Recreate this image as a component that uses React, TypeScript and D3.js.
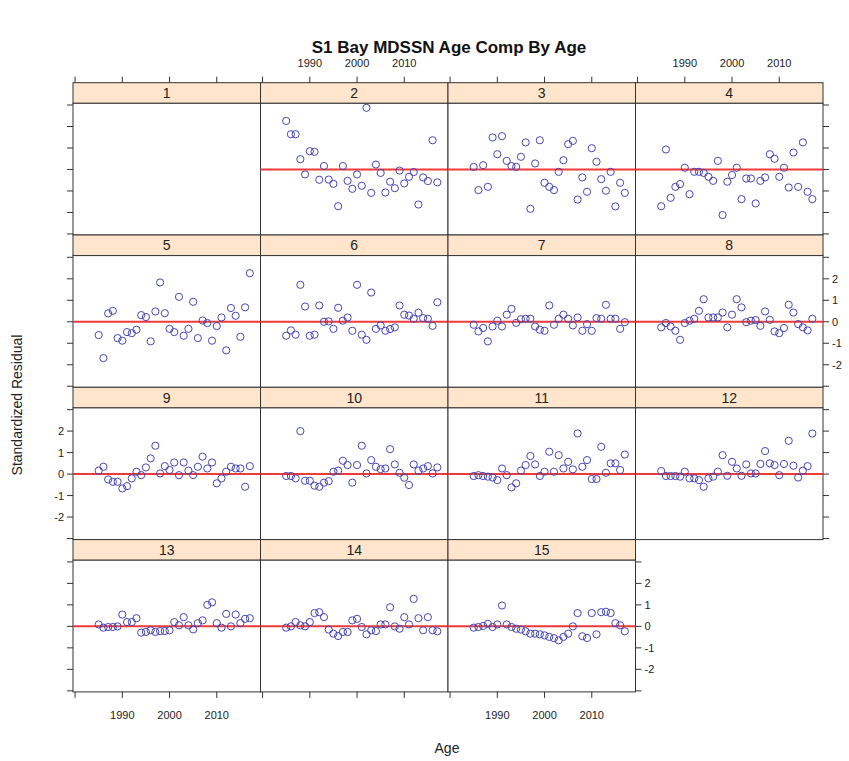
import React from "react";
import * as d3 from "d3";

const years = [1985,1986,1987,1988,1989,1990,1991,1992,1993,1994,1995,1996,1997,1998,1999,2000,2001,2002,2003,2004,2005,2006,2007,2008,2009,2010,2011,2012,2013,2014,2015,2016,2017];

const age1: number[] = [];
const age2 = [2.26,1.64,1.64,0.48,-0.23,0.85,0.82,-0.48,0.16,-0.47,-0.67,-1.71,0.16,-0.53,-0.90,-0.23,-0.76,2.87,-1.09,0.23,-0.16,-1.07,-0.57,-0.87,-0.05,-0.65,-0.34,-0.12,-1.63,-0.37,-0.54,1.36,-0.60];
const age3 = [0.12,-0.96,0.20,-0.81,1.49,0.71,1.55,0.40,0.16,0.12,0.59,1.26,-1.83,0.28,1.36,-0.62,-0.81,-0.96,-0.11,0.43,1.18,1.33,-1.40,-0.37,-1.04,0.99,0.36,-0.45,-0.99,-0.11,-1.72,-0.62,-1.09];
const age4 = [-1.71,0.93,-1.32,-0.81,-0.68,0.08,-1.15,-0.11,-0.11,-0.16,-0.34,-0.53,0.40,-2.12,-0.57,-0.26,0.08,-1.38,-0.42,-0.42,-1.58,-0.53,-0.37,0.71,0.50,-0.34,0.08,-0.84,0.79,-0.81,1.26,-1.04,-1.38];
const age5 = [-0.62,-1.69,0.39,0.51,-0.76,-0.88,-0.48,-0.53,-0.37,0.31,0.22,-0.91,0.48,1.83,0.40,-0.33,-0.48,1.16,-0.65,-0.33,0.93,-0.76,0.06,-0.06,-0.88,-0.20,0.20,-1.33,0.64,0.28,-0.70,0.67,2.26];
const age6 = [-0.65,-0.40,-0.60,1.72,0.71,-0.65,-0.60,0.76,0.00,0.02,-0.33,0.65,0.05,0.20,-0.42,1.72,-0.60,-0.84,1.36,-0.33,-0.17,-0.42,-0.34,-0.26,0.76,0.33,0.29,0.14,0.42,0.17,0.14,-0.19,0.91];
const age7 = [-0.14,-0.45,-0.29,-0.91,-0.22,0.05,-0.22,0.33,0.60,-0.05,0.12,0.14,0.14,-0.22,-0.37,-0.42,0.76,-0.14,0.14,0.33,0.14,-0.17,0.20,-0.42,-0.11,-0.42,0.17,0.14,0.79,0.14,0.14,-0.33,-0.02];
const age8 = [-0.26,-0.06,-0.22,-0.42,-0.84,-0.06,0.05,0.14,0.51,1.05,0.20,0.20,0.20,0.43,-0.26,0.33,1.05,0.67,-0.02,0.05,0.08,-0.19,0.48,0.09,-0.45,-0.53,-0.29,0.79,0.43,-0.11,-0.26,-0.40,0.14];
const age9 = [0.16,0.34,-0.25,-0.36,-0.36,-0.67,-0.56,-0.20,0.11,-0.05,0.31,0.73,1.32,0.03,0.37,0.19,0.54,-0.05,0.54,0.16,-0.05,0.34,0.81,0.26,0.54,-0.43,-0.20,0.11,0.34,0.26,0.26,-0.59,0.37];
const age10 = [-0.09,-0.09,-0.20,2.00,-0.31,-0.31,-0.54,-0.59,-0.40,-0.33,0.11,0.16,0.62,0.42,-0.40,0.42,1.32,0.03,0.65,0.34,0.23,0.26,1.16,0.45,0.06,-0.17,-0.51,0.45,0.16,0.26,0.37,0.03,0.31];
const age11 = [-0.09,-0.05,-0.09,-0.12,-0.16,-0.28,0.26,-0.05,-0.62,-0.43,0.16,0.42,0.84,0.45,-0.09,0.11,1.04,0.11,0.88,0.26,0.57,0.22,1.89,0.34,0.65,-0.23,-0.23,1.27,0.06,0.50,0.50,0.19,0.91];
const age12 = [0.14,-0.09,-0.09,-0.09,-0.12,0.11,-0.20,-0.20,-0.28,-0.59,-0.20,-0.12,0.11,0.88,-0.08,0.57,0.26,-0.08,0.45,0.03,0.03,0.47,1.07,0.50,0.42,-0.05,0.47,1.55,0.39,-0.16,0.16,0.37,1.89];
const age13 = [0.09,-0.06,-0.03,-0.03,0.00,0.55,0.20,0.20,0.38,-0.29,-0.26,-0.18,-0.26,-0.22,-0.22,-0.18,0.20,0.05,0.43,0.05,-0.14,0.15,0.28,1.00,1.12,0.15,-0.06,0.58,0.00,0.55,0.15,0.35,0.38];
const age14 = [-0.06,0.00,0.20,0.05,0.00,0.20,0.62,0.66,0.43,-0.15,-0.34,-0.45,-0.26,-0.26,0.28,0.35,-0.03,-0.37,-0.18,-0.22,0.09,0.09,0.89,0.00,-0.11,0.43,0.09,1.28,0.38,-0.18,0.43,-0.18,-0.23];
const age15 = [-0.06,-0.03,0.02,0.12,-0.03,0.09,0.97,0.09,-0.03,-0.11,-0.15,-0.23,-0.34,-0.34,-0.37,-0.42,-0.49,-0.55,-0.65,-0.49,-0.34,0.00,0.62,-0.46,-0.54,0.62,-0.37,0.66,0.68,0.62,0.15,0.05,-0.23];

const panelNames = ["1","2","3","4","5","6","7","8","9","10","11","12","13","14","15"];
const panelValues = [age1,age2,age3,age4,age5,age6,age7,age8,age9,age10,age11,age12,age13,age14,age15];

const xTicks = [1980, 1990, 2000, 2010];
const xTickLabels = ["", "1990", "2000", "2010"];
const yTicks = [-3, -2, -1, 0, 1, 2, 3];
const yTickLabels = ["", "-2", "-1", "0", "1", "2", ""];

const W = 849, H = 761;
const LEFT = 73, COLW = 187.5, TOP = 82.7, ROWH = 152.3, STRIPH = 20.6;
const PANELH = ROWH - STRIPH;
const FONT = "'Liberation Sans', Arial, Helvetica, sans-serif";
const LINE = "#333";

export default function App() {
  const x = d3.scaleLinear().domain([1979.56, 2019.26]).range([0, COLW]);
  const y = d3.scaleLinear().domain([-3.05, 3.08]).range([PANELH, 0]);

  const panels = panelNames.map((name, i) => {
    const col = i % 4;
    const row = Math.floor(i / 4);
    const px = LEFT + col * COLW;
    const py = TOP + row * ROWH;
    return { name, i, col, row, px, py, vals: panelValues[i] };
  });

  const tickLen = 6;

  return (
    <svg width={W} height={H} style={{ position: "absolute", left: 0, top: 0, background: "#fff" }} fontFamily={FONT}>
      <rect x={0} y={0} width={W} height={H} fill="#fff" />
      <text x={449} y={53} textAnchor="middle" fontSize={17} fontWeight="bold" fill="#111">S1 Bay MDSSN Age Comp By Age</text>

      {panels.map((p) => {
        const py0 = p.py + STRIPH;
        return (
          <g key={p.name}>
            <rect x={p.px} y={p.py} width={COLW} height={STRIPH} fill="#ffe5cc" stroke={LINE} strokeWidth={1} />
            <text x={p.px + COLW / 2} y={p.py + STRIPH / 2 + 5} textAnchor="middle" fontSize={14} fill="#222">{p.name}</text>
            <g transform={`translate(${p.px},${py0})`}>
              <rect x={0} y={0} width={COLW} height={PANELH} fill="#fff" stroke={LINE} strokeWidth={1} />
              {p.vals.length > 0 && (
                <line x1={0} x2={COLW} y1={y(0)} y2={y(0)} stroke="#f03a3a" strokeWidth={2} />
              )}
              {p.vals.map((v, j) => (
                <circle key={j} cx={x(years[j])} cy={y(v)} r={3.6} fill="none" stroke="#4646b4" strokeWidth={1} />
              ))}
            </g>
            {p.col === 0 && yTicks.map((t, k) => (
              <g key={"yl" + k}>
                <line x1={p.px - tickLen} x2={p.px} y1={py0 + y(t)} y2={py0 + y(t)} stroke={LINE} />
                {p.row === 2 && (
                  <text x={p.px - tickLen - 3} y={py0 + y(t) + 4} textAnchor="end" fontSize={11} fill="#222">{yTickLabels[k]}</text>
                )}
              </g>
            ))}
            {(p.col === 3 || p.i === 14) && yTicks.map((t, k) => (
              <g key={"yr" + k}>
                <line x1={p.px + COLW} x2={p.px + COLW + tickLen} y1={py0 + y(t)} y2={py0 + y(t)} stroke={LINE} />
                {(p.row === 1 || p.row === 3) && (
                  <text x={p.px + COLW + tickLen + 3} y={py0 + y(t) + 4} textAnchor="start" fontSize={11} fill="#222">{yTickLabels[k]}</text>
                )}
              </g>
            ))}
            {p.row === 0 && xTicks.map((t, k) => (
              <g key={"xt" + k}>
                <line x1={p.px + x(t)} x2={p.px + x(t)} y1={p.py - tickLen} y2={p.py} stroke={LINE} />
                {(p.col === 1 || p.col === 3) && (
                  <text x={p.px + x(t)} y={p.py - tickLen - 10} textAnchor="middle" fontSize={11} fill="#222">{xTickLabels[k]}</text>
                )}
              </g>
            ))}
            {p.row === 3 && xTicks.map((t, k) => (
              <g key={"xb" + k}>
                <line x1={p.px + x(t)} x2={p.px + x(t)} y1={py0 + PANELH} y2={py0 + PANELH + tickLen} stroke={LINE} />
                {(p.col === 0 || p.col === 2) && (
                  <text x={p.px + x(t)} y={py0 + PANELH + tickLen + 21} textAnchor="middle" fontSize={11} fill="#222">{xTickLabels[k]}</text>
                )}
              </g>
            ))}
          </g>
        );
      })}

      <text x={447} y={753} textAnchor="middle" fontSize={14} fill="#222">Age</text>
      <text transform="translate(22,405) rotate(-90)" textAnchor="middle" fontSize={14} fill="#222">Standardized Residual</text>
    </svg>
  );
}
